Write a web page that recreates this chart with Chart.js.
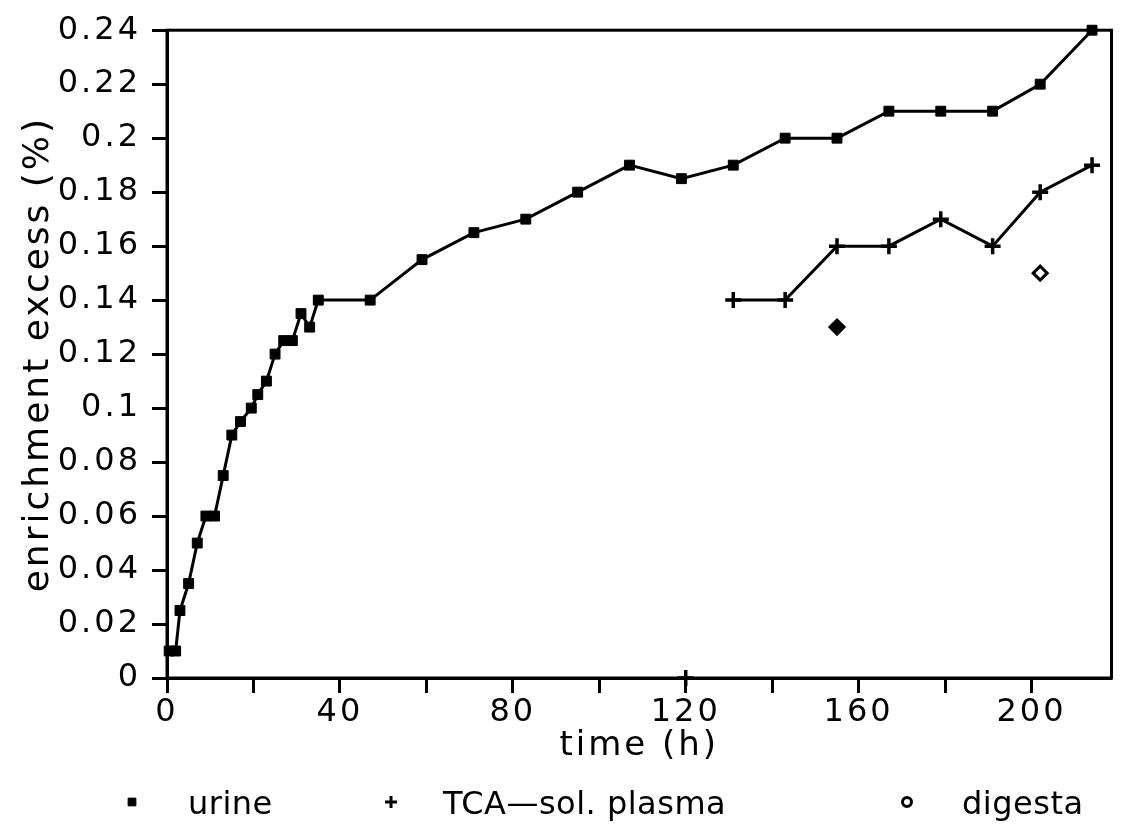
<!DOCTYPE html>
<html>
<head>
<meta charset="utf-8">
<script src="https://cdn.jsdelivr.net/npm/chart.js@4.4.1/dist/chart.umd.min.js"></script>
<style>
  body { margin: 0; background: #fff; }
  #wrap { width: 1123px; height: 826px; position: relative; }
</style>
</head>
<body>
<div id="wrap"><canvas id="enrichChart"></canvas></div>
<script>
// values
const urineTime = [0.5, 2, 3, 5, 7, 9, 11, 13, 15, 17, 19.5, 21, 23, 25, 27, 29, 31, 33, 35, 47,
  59, 71, 83, 95, 107, 119, 131, 143, 155, 167, 179, 191, 202, 214];
const urineValues = [0.01, 0.01, 0.025, 0.035, 0.05, 0.06, 0.06, 0.075, 0.09, 0.095, 0.1, 0.105, 0.11, 0.12, 0.125, 0.125, 0.135, 0.13, 0.14, 0.14,
  0.155, 0.165, 0.17, 0.18, 0.19, 0.185, 0.19, 0.2, 0.2, 0.21, 0.21, 0.21, 0.22, 0.24];

const plasmaTime = [120, 131, 143, 155, 167, 179, 191, 202, 214];
const plasmaValues = [0, 0.14, 0.14, 0.16, 0.16, 0.17, 0.16, 0.18, 0.19];

const digestaTime = [155, 202];
const digestaValues = [0.13, 0.15];

const seriesLabels = ['urine', 'TCA\u2014sol. plasma', 'digesta'];

const toPoints = (xs, ys) => xs.map((x, i) => ({ x: x, y: ys[i] }));

const FONT = 'DejaVu Sans';

// wide plotter-like lettering
const spacing = {
  id: 'spacing',
  beforeUpdate(chart) { chart.ctx.letterSpacing = '3px'; },
  beforeDraw(chart) { chart.ctx.letterSpacing = '3px'; }
};

// box round the plot area
const frame = {
  id: 'frame',
  afterDatasetsDraw(chart) {
    const { ctx, chartArea: a } = chart;
    ctx.save();
    ctx.strokeStyle = '#000';
    ctx.lineWidth = 3;
    ctx.strokeRect(a.left, a.top, a.right - a.left, a.bottom - a.top);
    ctx.restore();
  }
};

// legend row under the axis title, spread like the original
const legendRow = {
  id: 'legendRow',
  afterDraw(chart) {
    const ctx = chart.ctx;
    const spots = [[132, 188], [391, 443], [907, 962]];
    const marks = [
      { pointStyle: 'rect', radius: 5.5, borderWidth: 1, fill: '#000' },
      { pointStyle: 'cross', radius: 6, borderWidth: 3, fill: '#000' },
      { pointStyle: 'circle', radius: 4.5, borderWidth: 3, fill: '#fff' }
    ];
    ctx.save();
    ctx.letterSpacing = '0.5px';
    ctx.font = '32px "' + FONT + '"';
    ctx.textBaseline = 'alphabetic';
    ctx.textAlign = 'left';
    seriesLabels.forEach((lab, i) => {
      const m = marks[i];
      ctx.fillStyle = m.fill;
      ctx.strokeStyle = '#000';
      ctx.lineWidth = m.borderWidth;
      Chart.helpers.drawPoint(ctx, { pointStyle: m.pointStyle, radius: m.radius, borderWidth: m.borderWidth, rotation: 0 }, spots[i][0], 802);
      ctx.fillStyle = '#000';
      ctx.fillText(lab, spots[i][1], 814);
    });
    ctx.restore();
  }
};

const ctx = document.getElementById('enrichChart').getContext('2d');
const enrichChart = new Chart(ctx, {
  type: 'line',
  data: {
    datasets: [
      {
        label: seriesLabels[0],
        data: toPoints(urineTime, urineValues),
        borderColor: '#000',
        borderWidth: 3,
        pointStyle: 'rect',
        pointRadius: 7,
        pointBackgroundColor: '#000',
        pointBorderColor: '#000',
        pointBorderWidth: 1,
        tension: 0,
        clip: false
      },
      {
        label: seriesLabels[1],
        data: toPoints(plasmaTime, plasmaValues),
        borderColor: '#000',
        borderWidth: 3,
        pointStyle: 'cross',
        pointRadius: 8,
        pointBorderColor: '#000',
        pointBorderWidth: 3.5,
        tension: 0,
        clip: false,
        // the 120 h reading stands alone
        segment: { borderColor: c => c.p0DataIndex === 0 ? 'rgba(0,0,0,0)' : '#000' }
      },
      {
        label: seriesLabels[2],
        data: toPoints(digestaTime, digestaValues),
        showLine: false,
        pointStyle: 'rectRot',
        pointRadius: 7,
        pointBackgroundColor: ['#000', '#fff'],
        pointBorderColor: '#000',
        pointBorderWidth: 3,
        clip: false
      }
    ]
  },
  options: {
    responsive: true,
    maintainAspectRatio: false,
    animation: false,
    layout: { padding: { top: 28, right: 6, bottom: 48, left: 0 } },
    plugins: {
      legend: { display: false },
      tooltip: { enabled: false }
    },
    scales: {
      x: {
        type: 'linear',
        min: 0,
        max: 218.5,
        afterFit: s => { s.height = 100; },
        border: { display: true, color: '#000', width: 3 },
        grid: { display: true, drawOnChartArea: false, tickLength: 15, tickColor: '#000', tickWidth: 3 },
        ticks: {
          stepSize: 20,
          includeBounds: false,
          maxRotation: 0,
          padding: 0,
          color: '#000',
          font: { family: FONT, size: 32 },
          callback: v => (v % 40 === 0 ? String(v) : '')
        },
        title: {
          display: true,
          text: 'time (h)',
          color: '#000',
          font: { family: FONT, size: 34 },
          padding: { top: 0, bottom: 11 }
        }
      },
      y: {
        min: 0,
        max: 0.24,
        afterFit: s => { s.width = 167; },
        border: { display: true, color: '#000', width: 3 },
        grid: { display: true, drawOnChartArea: false, tickLength: 15, tickColor: '#000', tickWidth: 3 },
        ticks: {
          stepSize: 0.02,
          padding: 11,
          color: '#000',
          font: { family: FONT, size: 32 },
          callback: v => String(+v.toFixed(2))
        },
        title: {
          display: true,
          text: 'enrichment excess (%)',
          color: '#000',
          font: { family: FONT, size: 36 },
          padding: { top: 17, bottom: 0 }
        }
      }
    }
  },
  plugins: [spacing, frame, legendRow]
});
</script>
</body>
</html>
